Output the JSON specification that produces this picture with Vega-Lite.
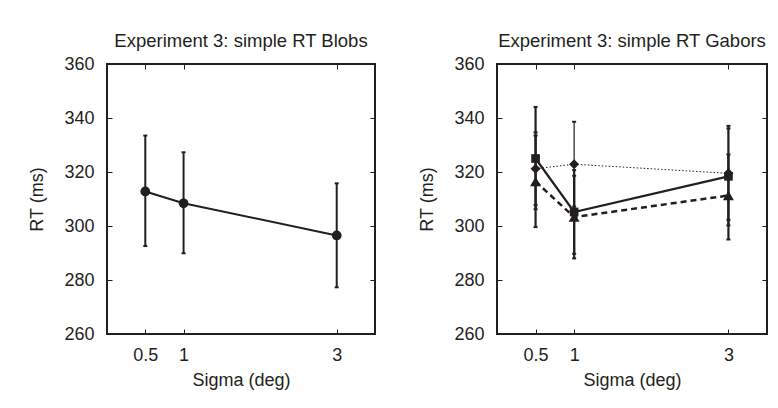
{
  "$schema": "https://vega.github.io/schema/vega-lite/v6.json",
  "padding": {"left": 27, "top": 30, "right": 5, "bottom": 5},
  "background": "white",
  "spacing": 40,
  "config": {
    "view": {"stroke": "#231f20", "strokeWidth": 2},
    "font": "Liberation Sans",
    "axis": {
      "grid": false, "domain": false, "tickColor": "#231f20", "tickSize": -5, "tickWidth": 1,
      "labelFontSize": 18, "labelColor": "#231f20", "labelFont": "Liberation Sans",
      "titleFontSize": 18, "titleFontWeight": "normal", "titleColor": "#231f20", "titleFont": "Liberation Sans"
    },
    "title": {"fontSize": 18.5, "fontWeight": "normal", "font": "Liberation Sans", "color": "#231f20", "baseline": "alphabetic", "offset": 5}
  },
  "hconcat": [
    {
      "width": 268, "height": 270,
      "title": {"text": "Experiment 3: simple RT Blobs"},
      "data": {"values": [
        {"sigma": 0.5, "rt": 312.8, "lo": 292.6, "hi": 333.5},
        {"sigma": 1, "rt": 308.4, "lo": 289.9, "hi": 327.3},
        {"sigma": 3, "rt": 296.5, "lo": 277.3, "hi": 315.8}
      ]},
      "layer": [
        {
          "mark": {"type": "line", "color": "#231f20", "strokeWidth": 2},
          "encoding": {
            "x": {"field": "sigma", "type": "quantitative", "scale": {"domain": [0, 3.5], "nice": false, "zero": false},
                  "axis": {"values": [0.5, 1, 3], "format": "~g", "title": "Sigma (deg)", "labelPadding": 17, "titlePadding": 7, "labelFlush": false}},
            "y": {"field": "rt", "type": "quantitative", "scale": {"domain": [260, 360], "nice": false, "zero": false},
                  "axis": {"values": [260, 280, 300, 320, 340, 360], "title": "RT (ms)", "labelPadding": 18, "titlePadding": 17}}
          }
        },
        {
          "mark": {"type": "rule", "color": "#231f20", "strokeWidth": 2},
          "encoding": {
            "x": {"field": "sigma", "type": "quantitative", "scale": {"domain": [0, 3.5], "nice": false, "zero": false}, "axis": null},
            "y": {"field": "lo", "type": "quantitative", "scale": {"domain": [260, 360], "nice": false, "zero": false}, "axis": null},
            "y2": {"field": "hi"}
          }
        },
        {
          "mark": {"type": "tick", "color": "#231f20", "orient": "horizontal", "size": 4, "thickness": 2, "opacity": 1},
          "encoding": {
            "x": {"field": "sigma", "type": "quantitative", "scale": {"domain": [0, 3.5], "nice": false, "zero": false}, "axis": null},
            "y": {"field": "lo", "type": "quantitative", "scale": {"domain": [260, 360], "nice": false, "zero": false}, "axis": null}
          }
        },
        {
          "mark": {"type": "tick", "color": "#231f20", "orient": "horizontal", "size": 4, "thickness": 2, "opacity": 1},
          "encoding": {
            "x": {"field": "sigma", "type": "quantitative", "scale": {"domain": [0, 3.5], "nice": false, "zero": false}, "axis": null},
            "y": {"field": "hi", "type": "quantitative", "scale": {"domain": [260, 360], "nice": false, "zero": false}, "axis": null}
          }
        },
        {
          "mark": {"type": "point", "shape": "circle", "filled": true, "size": 95, "color": "#231f20", "opacity": 1},
          "encoding": {
            "x": {"field": "sigma", "type": "quantitative", "scale": {"domain": [0, 3.5], "nice": false, "zero": false},
                  "axis": {"orient": "top", "values": [0.5, 1, 3], "labels": false, "title": null, "minExtent": 0}},
            "y": {"field": "rt", "type": "quantitative", "scale": {"domain": [260, 360], "nice": false, "zero": false},
                  "axis": {"orient": "right", "values": [260, 280, 300, 320, 340, 360], "labels": false, "title": null, "minExtent": 0}}
          }
        }
      ],
      "resolve": {"axis": {"x": "independent", "y": "independent"}}
    },
    {
      "width": 270, "height": 270,
      "title": {"text": "Experiment 3: simple RT Gabors"},
      "data": {"values": [
        {"cond": "sq", "sigma": 0.5, "rt": 325.0, "lo": 306.2, "hi": 344.1},
        {"cond": "sq", "sigma": 1, "rt": 305.2, "lo": 289.7, "hi": 320.7},
        {"cond": "sq", "sigma": 3, "rt": 318.4, "lo": 300.2, "hi": 337.1},
        {"cond": "tri", "sigma": 0.5, "rt": 316.5, "lo": 299.6, "hi": 333.5},
        {"cond": "tri", "sigma": 1, "rt": 303.3, "lo": 288.0, "hi": 318.6},
        {"cond": "tri", "sigma": 3, "rt": 311.3, "lo": 295.0, "hi": 326.5},
        {"cond": "dia", "sigma": 0.5, "rt": 321.2, "lo": 307.8, "hi": 334.7},
        {"cond": "dia", "sigma": 1, "rt": 322.9, "lo": 307.2, "hi": 338.6},
        {"cond": "dia", "sigma": 3, "rt": 319.5, "lo": 302.3, "hi": 336.1}
      ]},
      "layer": [
        {
          "transform": [{"filter": {"field": "cond", "equal": "dia"}}],
          "mark": {"type": "line", "color": "#231f20", "strokeWidth": 1, "strokeDash": [1.5, 2]},
          "encoding": {
            "x": {"field": "sigma", "type": "quantitative", "scale": {"domain": [0, 3.5], "nice": false, "zero": false},
                  "axis": {"values": [0.5, 1, 3], "format": "~g", "title": "Sigma (deg)", "labelPadding": 17, "titlePadding": 7, "labelFlush": false}},
            "y": {"field": "rt", "type": "quantitative", "scale": {"domain": [260, 360], "nice": false, "zero": false},
                  "axis": {"values": [260, 280, 300, 320, 340, 360], "title": "RT (ms)", "labelPadding": 18, "titlePadding": 17}}
          }
        },
        {
          "transform": [{"filter": {"field": "cond", "equal": "tri"}}],
          "mark": {"type": "line", "color": "#231f20", "strokeWidth": 2.5, "strokeDash": [6, 4]},
          "encoding": {
            "x": {"field": "sigma", "type": "quantitative", "scale": {"domain": [0, 3.5], "nice": false, "zero": false}, "axis": null},
            "y": {"field": "rt", "type": "quantitative", "scale": {"domain": [260, 360], "nice": false, "zero": false}, "axis": null}
          }
        },
        {
          "transform": [{"filter": {"field": "cond", "equal": "sq"}}],
          "mark": {"type": "line", "color": "#231f20", "strokeWidth": 2.2},
          "encoding": {
            "x": {"field": "sigma", "type": "quantitative", "scale": {"domain": [0, 3.5], "nice": false, "zero": false}, "axis": null},
            "y": {"field": "rt", "type": "quantitative", "scale": {"domain": [260, 360], "nice": false, "zero": false}, "axis": null}
          }
        },
        {
          "transform": [{"filter": {"field": "cond", "equal": "dia"}}],
          "mark": {"type": "rule", "color": "#231f20", "strokeWidth": 1.2},
          "encoding": {
            "x": {"field": "sigma", "type": "quantitative", "scale": {"domain": [0, 3.5], "nice": false, "zero": false}, "axis": null},
            "y": {"field": "lo", "type": "quantitative", "scale": {"domain": [260, 360], "nice": false, "zero": false}, "axis": null},
            "y2": {"field": "hi"}
          }
        },
        {
          "transform": [{"filter": {"field": "cond", "oneOf": ["sq", "tri"]}}],
          "mark": {"type": "rule", "color": "#231f20", "strokeWidth": 2.2},
          "encoding": {
            "x": {"field": "sigma", "type": "quantitative", "scale": {"domain": [0, 3.5], "nice": false, "zero": false}, "axis": null},
            "y": {"field": "lo", "type": "quantitative", "scale": {"domain": [260, 360], "nice": false, "zero": false}, "axis": null},
            "y2": {"field": "hi"}
          }
        },
        {
          "mark": {"type": "tick", "color": "#231f20", "orient": "horizontal", "size": 4, "thickness": 2, "opacity": 1},
          "encoding": {
            "x": {"field": "sigma", "type": "quantitative", "scale": {"domain": [0, 3.5], "nice": false, "zero": false}, "axis": null},
            "y": {"field": "lo", "type": "quantitative", "scale": {"domain": [260, 360], "nice": false, "zero": false}, "axis": null}
          }
        },
        {
          "mark": {"type": "tick", "color": "#231f20", "orient": "horizontal", "size": 4, "thickness": 2, "opacity": 1},
          "encoding": {
            "x": {"field": "sigma", "type": "quantitative", "scale": {"domain": [0, 3.5], "nice": false, "zero": false}, "axis": null},
            "y": {"field": "hi", "type": "quantitative", "scale": {"domain": [260, 360], "nice": false, "zero": false}, "axis": null}
          }
        },
        {
          "transform": [{"filter": {"field": "cond", "equal": "sq"}}],
          "mark": {"type": "point", "shape": "square", "filled": true, "size": 75, "color": "#231f20", "opacity": 1},
          "encoding": {
            "x": {"field": "sigma", "type": "quantitative", "scale": {"domain": [0, 3.5], "nice": false, "zero": false}, "axis": null},
            "y": {"field": "rt", "type": "quantitative", "scale": {"domain": [260, 360], "nice": false, "zero": false}, "axis": null}
          }
        },
        {
          "transform": [{"filter": {"field": "cond", "equal": "tri"}}],
          "mark": {"type": "point", "shape": "triangle-up", "filled": true, "size": 120, "color": "#231f20", "opacity": 1},
          "encoding": {
            "x": {"field": "sigma", "type": "quantitative", "scale": {"domain": [0, 3.5], "nice": false, "zero": false}, "axis": null},
            "y": {"field": "rt", "type": "quantitative", "scale": {"domain": [260, 360], "nice": false, "zero": false}, "axis": null}
          }
        },
        {
          "transform": [{"filter": {"field": "cond", "equal": "dia"}}],
          "mark": {"type": "point", "shape": "diamond", "filled": true, "size": 100, "color": "#231f20", "opacity": 1},
          "encoding": {
            "x": {"field": "sigma", "type": "quantitative", "scale": {"domain": [0, 3.5], "nice": false, "zero": false},
                  "axis": {"orient": "top", "values": [0.5, 1, 3], "labels": false, "title": null, "minExtent": 0}},
            "y": {"field": "rt", "type": "quantitative", "scale": {"domain": [260, 360], "nice": false, "zero": false},
                  "axis": {"orient": "right", "values": [260, 280, 300, 320, 340, 360], "labels": false, "title": null, "minExtent": 0}}
          }
        }
      ],
      "resolve": {"axis": {"x": "independent", "y": "independent"}}
    }
  ]
}
